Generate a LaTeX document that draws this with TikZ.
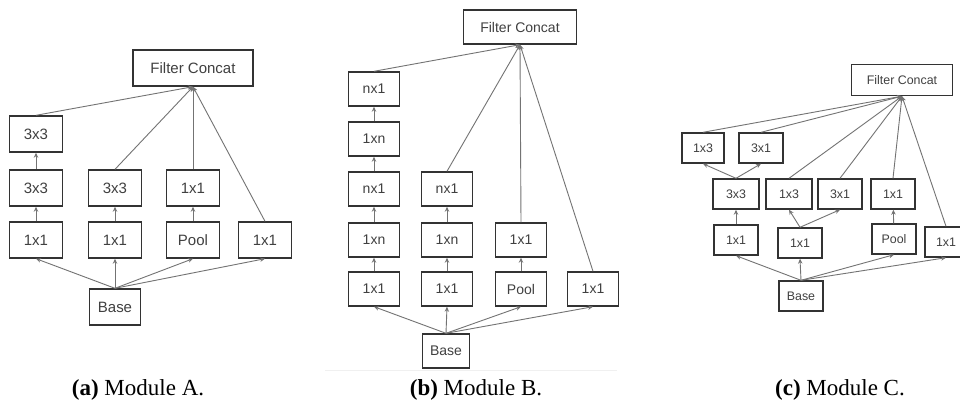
\documentclass[tikz,border=0pt]{standalone}
\usepackage{fontspec}
\setmainfont{Liberation Serif}
\setsansfont{Liberation Sans}
\usetikzlibrary{arrows.meta}
\usetikzlibrary{positioning}

\tikzset{
  blk/.style={draw=black!80,line width=0.7pt,fill=white,text=black!75,font=\sffamily,inner sep=0pt},
  blkA/.style={blk,minimum width=26.5pt,minimum height=18pt,font=\sffamily\fontsize{7.5}{8}\selectfont},
  blkB/.style={blk,minimum width=25.5pt,minimum height=17pt,font=\sffamily\fontsize{7}{8}\selectfont},
  blkC/.style={blk,minimum width=22pt,minimum height=15pt,font=\sffamily\fontsize{6.2}{7}\selectfont},
  link/.style={draw=black!55,line width=0.45pt,-{Stealth[length=2.5pt,width=2.2pt]}},
  capt/.style={font=\fontsize{11.5}{12}\selectfont,anchor=base},
}

\begin{document}
\begin{tikzpicture}[x=0.5pt,y=-0.5pt]
\useasboundingbox (0,0) rectangle (960,402);
\clip (0,0) rectangle (960,402);
\fill[white] (0,0) rectangle (960,402);

% Module A
\node[blkA,minimum width=60pt] (fcA) at (193,68) {Filter Concat};
\node[blkA] (aL3) at (36,134) {3x3};
\node[blkA] (aL2) at (36,188) {3x3};
\node[blkA] (aL1) at (36,240) {1x1};
\node[blkA] (aM2) at (115,188) {3x3};
\node[blkA] (aM1) at (115,240) {1x1};
\node[blkA] (aP2) at (193,188) {1x1};
\node[blkA] (aP1) at (193,240) {Pool};
\node[blkA] (aR1) at (265,240) {1x1};
\node[blkA,minimum width=25.5pt] (baseA) at (115,307) {Base};

\foreach \n in {aL1,aM1,aP1,aR1}
  \draw[link] (baseA.north) -- (\n.south);
\draw[link] (aL1) -- (aL2);
\draw[link] (aL2) -- (aL3);
\draw[link] (aM1) -- (aM2);
\draw[link] (aP1) -- (aP2);
\foreach \n in {aL3,aM2,aP2,aR1}
  \draw[link] (\n.north) -- (fcA.south);

% Module B
\node[blkB,minimum width=56.5pt] (fcB) at (520,27) {Filter Concat};
\node[blkB] (bL5) at (374,89) {nx1};
\node[blkB] (bL4) at (374,139) {1xn};
\node[blkB] (bL3) at (374,189) {nx1};
\node[blkB] (bL2) at (374,240) {1xn};
\node[blkB] (bL1) at (374,289) {1x1};
\node[blkB] (bM3) at (447,189) {nx1};
\node[blkB] (bM2) at (447,240) {1xn};
\node[blkB] (bM1) at (447,289) {1x1};
\node[blkB] (bP2) at (521,240) {1x1};
\node[blkB] (bP1) at (521,289) {Pool};
\node[blkB] (bR1) at (593,289) {1x1};
\node[blkB,minimum width=23.5pt] (baseB) at (446,351) {Base};
\draw[black!6,line width=0.5pt] (325,370) -- (617,370);

\foreach \n in {bL1,bM1,bP1,bR1}
  \draw[link] (baseB.north) -- (\n.south);
\draw[link] (bL1) -- (bL2);
\draw[link] (bL2) -- (bL3);
\draw[link] (bL3) -- (bL4);
\draw[link] (bL4) -- (bL5);
\draw[link] (bM1) -- (bM2);
\draw[link] (bM2) -- (bM3);
\draw[link] (bP1) -- (bP2);
\foreach \n in {bL5,bM3,bP2,bR1}
  \draw[link] (\n.north) -- (fcB.south);

% Module C
\node[blkC,minimum width=50.5pt,minimum height=15.5pt] (fcC) at (902,80) {Filter Concat};
\node[blkC,minimum width=21pt] (cT1) at (703,148) {1x3};
\node[blkC] (cT2) at (761,148) {3x1};
\node[blkC,minimum width=23pt] (c33) at (736,194) {3x3};
\node[blkC,minimum width=23pt] (c13) at (789,194) {1x3};
\node[blkC] (c31) at (840,194) {3x1};
\node[blkC] (cP2) at (893,194) {1x1};
\node[blkC] (cL1) at (736,240) {1x1};
\node[blkC] (cM1) at (800,243) {1x1};
\node[blkC] (cP1) at (894,239) {Pool};
\node[blkC,minimum width=21pt] (cR1) at (946,242) {1x1};
\node[blkC] (baseC) at (801,296) {Base};

\foreach \n in {cL1,cM1,cP1,cR1}
  \draw[link] (baseC.north) -- (\n.south);
\draw[link] (cL1) -- (c33);
\draw[link] (c33.north) -- (cT1.south);
\draw[link] (c33.north) -- (cT2.south);
\draw[link] (cM1.north) -- (c13.south);
\draw[link] (cM1.north) -- (c31.south);
\draw[link] (cP1) -- (cP2);
\foreach \n in {cT1,cT2,c13,c31,cP2,cR1}
  \draw[link] (\n.north) -- (fcC.south);

% captions
\node[capt] (capA) at (138,395) {\textbf{(a)} Module A.};
\node[capt] (capB) at (476,395) {\textbf{(b)} Module B.};
\node[capt] (capC) at (840,395) {\textbf{(c)} Module C.};
\end{tikzpicture}
\end{document}
